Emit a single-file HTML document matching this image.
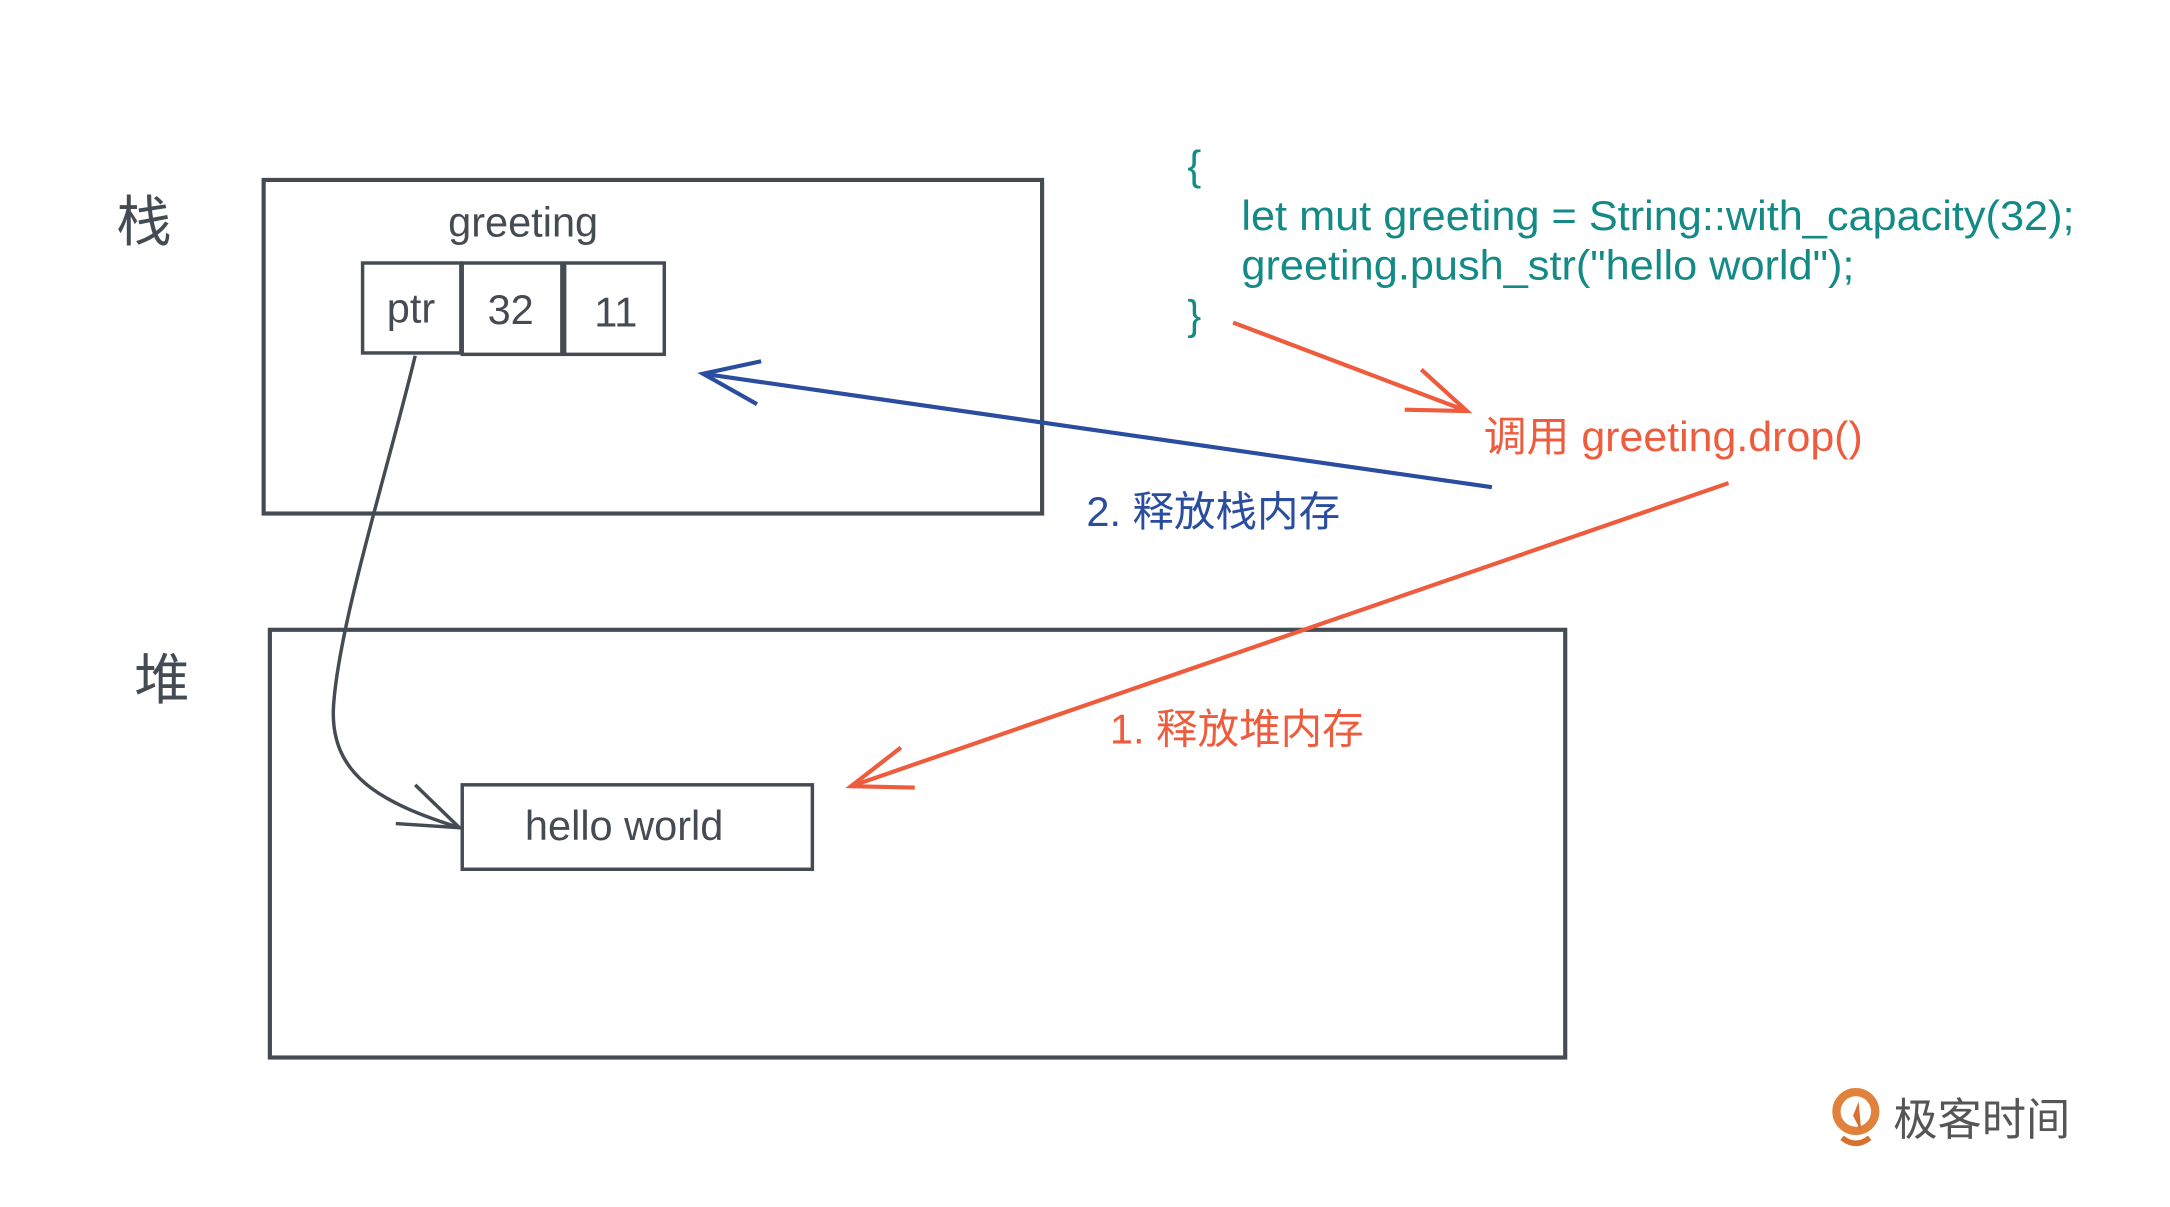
<!DOCTYPE html>
<html><head><meta charset="utf-8"><style>
html,body{margin:0;padding:0;background:#fff;}
svg{display:block;}
text{font-family:"Liberation Sans","Noto Sans CJK SC",sans-serif;}
</style></head><body>
<svg width="2170" height="1207" viewBox="0 0 1568 872" preserveAspectRatio="none" xmlns="http://www.w3.org/2000/svg">
<rect width="1568" height="872" fill="#fff"/>
<g fill="none" stroke="#454b53" stroke-width="3">
<rect x="190.5" y="130" width="562.5" height="241"/>
<rect x="195" y="455" width="936" height="309"/>
<rect x="262" y="190" width="71" height="65" stroke-width="2.5"/>
<rect x="334" y="190" width="72" height="66" stroke-width="2.5"/>
<rect x="408" y="190" width="72" height="66" stroke-width="2.5"/>
<rect x="334" y="567" width="253" height="61" stroke-width="2.5"/>
<path d="M300,257 C280,340 245,450 241,510 C238,560 275,580 332,598" stroke-width="2.5"/>
<path d="M300,567 L332,598 L286,595" stroke-width="2.5"/>
</g>
<g fill="none" stroke="#2a4da0" stroke-width="3">
<path d="M1078,352 L508,270"/>
<path d="M550,261 L508,270 L547,292"/>
</g>
<g fill="none" stroke="#ee5c3d" stroke-width="3">
<path d="M891,233 L1060,297"/>
<path d="M1027,267 L1060,297 L1015,296"/>
<path d="M1249,349 L615,568"/>
<path d="M651,540 L615,568 L661,569"/>
</g>
<g fill="#454b53">
<text x="84" y="174" font-size="40">栈</text>
<text x="97" y="505" font-size="40">堆</text>
<text x="378" y="171" font-size="30" text-anchor="middle">greeting</text>
<text x="297" y="233" font-size="30" text-anchor="middle">ptr</text>
<text x="369" y="234" font-size="30" text-anchor="middle">32</text>
<text x="445" y="236" font-size="30" text-anchor="middle">11</text>
<text x="451" y="607" font-size="30" text-anchor="middle">hello world</text>
</g>
<g fill="#138a86" font-size="30">
<text x="858" y="130">{</text>
<text x="897" y="166" textLength="602" lengthAdjust="spacingAndGlyphs">let mut greeting = String::with_capacity(32);</text>
<text x="897" y="202" textLength="443" lengthAdjust="spacingAndGlyphs">greeting.push_str("hello world");</text>
<text x="858" y="238">}</text>
</g>
<text x="1072" y="326" font-size="30" fill="#ee5c3d" textLength="274" lengthAdjust="spacingAndGlyphs">调用 greeting.drop()</text>
<text x="785" y="380" font-size="30" fill="#2a4da0">2. 释放栈内存</text>
<text x="802" y="537" font-size="30" fill="#ee5c3d">1. 释放堆内存</text>
<g>
<circle cx="1341" cy="803" r="14" fill="none" stroke="#e0823c" stroke-width="6"/>
<path d="M1331,822 Q1341,830 1351,822" fill="none" stroke="#d8702e" stroke-width="4"/>
<path d="M1339,806 L1343,796 L1345,818 Z" fill="#d8702e"/>
<text x="1368" y="820" font-size="32" fill="#555">极客时间</text>
</g>
</svg>
</body></html>
